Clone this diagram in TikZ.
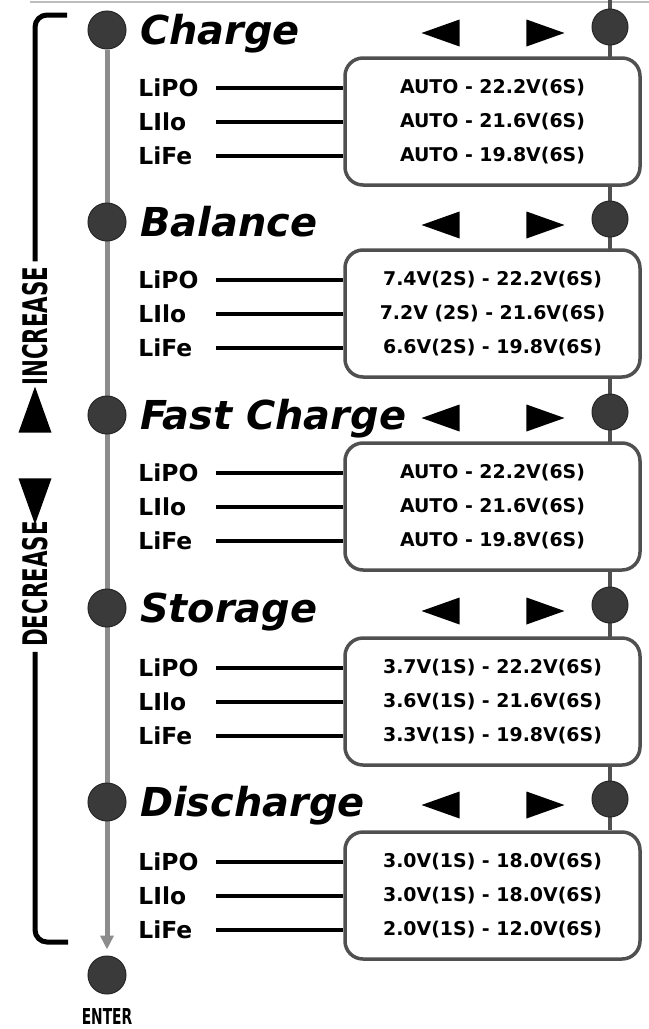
\documentclass[tikz,border=0pt]{standalone}
\usepackage{fontspec}
\setmainfont{DejaVu Sans}
\newfontfamily\condfont{DejaVu Sans}[FakeStretch=0.63]
\usepackage{tikz}
\usetikzlibrary{arrows.meta,backgrounds,calc,shapes.geometric}
\definecolor{knobdark}{RGB}{58,58,58}
\definecolor{railgrey}{RGB}{140,140,140}
\definecolor{framegrey}{RGB}{80,80,80}
\definecolor{ruleline}{RGB}{190,190,190}
\tikzset{
  knob/.style={circle, fill=knobdark, draw=black!85, line width=1bp,
    minimum size=38bp, inner sep=0pt},
  sideknob/.style={knob, minimum size=36bp},
  modetitle/.style={anchor=base west, inner sep=0pt,
    font=\fontsize{40}{40}\selectfont\bfseries\itshape},
  tip/.style={isosceles triangle, isosceles triangle stretches, fill=black,
    inner sep=0pt, minimum height=38bp, minimum width=27bp},
  lefttip/.style={tip, shape border rotate=180},
  righttip/.style={tip},
  updown/.style={tip, minimum height=46bp, minimum width=33bp},
  valuebox/.style={draw=framegrey, fill=white, line width=3.5bp,
    rounded corners=18bp, minimum width=295bp, minimum height=127bp,
    align=center, inner sep=0pt, font=\fontsize{19}{34}\selectfont\bfseries},
  cell/.style={anchor=west, inner sep=0pt, font=\fontsize{23.5}{23.5}\selectfont\bfseries},
  lead/.style={line width=4bp, draw=black},
  rail/.style={line width=5bp, draw=railgrey},
  siderail/.style={line width=4bp, draw=framegrey},
  bracket/.style={line width=5bp, draw=black, rounded corners=12bp},
  sidelabel/.style={rotate=90, inner sep=5bp,
    font=\fontsize{34}{34}\selectfont\condfont\bfseries}
}

\begin{document}
\begin{tikzpicture}[x=1bp,y=-1bp]
  \useasboundingbox (0,0) rectangle (649,1029);

  % Charge
  \node[knob] (k1) at (107,30) {};
  \node[modetitle] (t1) at (140,44) {Charge};
  \node[lefttip] (lt1) at (450,33) {};
  \node[righttip] (rt1) at (536,33) {};
  \node[sideknob] (r1) at (610,27) {};
  \node[valuebox] (chg) at (492.5,121.5) {AUTO - 22.2V(6S)\\AUTO - 21.6V(6S)\\AUTO - 19.8V(6S)};

  % Balance
  \node[knob] (k2) at (107,222) {};
  \node[modetitle] (t2) at (140,236) {Balance};
  \node[lefttip] (lt2) at (450,225) {};
  \node[righttip] (rt2) at (536,225) {};
  \node[sideknob] (r2) at (610,219) {};
  \node[valuebox] (bal) at (492.5,313.5) {7.4V(2S) - 22.2V(6S)\\7.2V (2S) - 21.6V(6S)\\6.6V(2S) - 19.8V(6S)};

  % Fast Charge
  \node[knob] (k3) at (107,415) {};
  \node[modetitle] (t3) at (140,429) {Fast Charge};
  \node[lefttip] (lt3) at (450,418) {};
  \node[righttip] (rt3) at (536,418) {};
  \node[sideknob] (r3) at (610,412) {};
  \node[valuebox] (fast) at (492.5,506.5) {AUTO - 22.2V(6S)\\AUTO - 21.6V(6S)\\AUTO - 19.8V(6S)};

  % Storage
  \node[knob] (k4) at (107,608) {};
  \node[modetitle] (t4) at (140,622) {Storage};
  \node[lefttip] (lt4) at (450,611) {};
  \node[righttip] (rt4) at (536,611) {};
  \node[sideknob] (r4) at (610,605) {};
  \node[valuebox] (sto) at (492.5,701.5) {3.7V(1S) - 22.2V(6S)\\3.6V(1S) - 21.6V(6S)\\3.3V(1S) - 19.8V(6S)};

  % Discharge
  \node[knob] (k5) at (107,802) {};
  \node[modetitle] (t5) at (140,816) {Discharge};
  \node[lefttip] (lt5) at (450,805) {};
  \node[righttip] (rt5) at (536,805) {};
  \node[sideknob] (r5) at (610,799) {};
  \node[valuebox] (dis) at (492.5,895.5) {3.0V(1S) - 18.0V(6S)\\3.0V(1S) - 18.0V(6S)\\2.0V(1S) - 12.0V(6S)};

  % cell types, wired into each box
  \foreach \b in {chg,bal,fast,sto,dis}{
    \node[cell] (\b-lipo) at ($(\b.west)+(-205,-34)$) {LiPO};
    \node[cell] (\b-liio) at ($(\b.west)+(-205,0)$) {LIlo};
    \node[cell] (\b-life) at ($(\b.west)+(-205,34)$) {LiFe};
    \draw[lead] ([xshift=78bp]\b-lipo.west) -- (\b-lipo.west -| \b.west);
    \draw[lead] ([xshift=78bp]\b-liio.west) -- (\b-liio.west -| \b.west);
    \draw[lead] ([xshift=78bp]\b-life.west) -- (\b-life.west -| \b.west);
  }

  % enter key
  \node[knob] (enter) at (107,975) {};
  \node[inner sep=0pt, font=\fontsize{22}{22}\selectfont\condfont\bfseries] (entertxt) at (107,1016) {ENTER};

  % increase / decrease bracket
  \node[updown, shape border rotate=90] (up) at (35,421) {};
  \node[updown, shape border rotate=270] (down) at (35,490) {};
  \node[sidelabel] (inc) at (35,326) {INCREASE};
  \node[sidelabel] (dec) at (35,584) {DECREASE};
  \coordinate (brtop) at (67,15);
  \coordinate (brbot) at (68,942);
  \draw[bracket] (inc.east) |- (brtop);
  \draw[bracket] (dec.west) |- (brbot);

  \begin{scope}[on background layer]
    \draw[line width=1.5bp, draw=ruleline] (30,2) -- (649,2);
    \coordinate (railtop) at (610,0);
    \draw[siderail] (railtop) -- (r5 |- dis.north);
    \draw[rail, -{Triangle[width=13bp,length=14bp]}, shorten >=6bp] (k1) -- (enter.north);
  \end{scope}
\end{tikzpicture}
\end{document}
